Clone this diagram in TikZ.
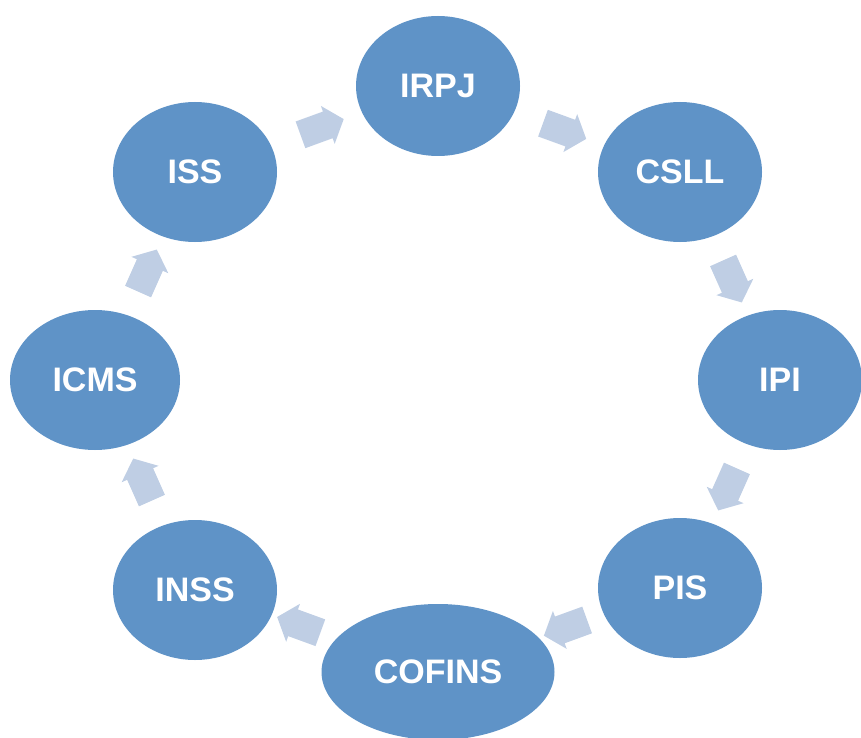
\documentclass[tikz,border=0pt]{standalone}
\usepackage{fontspec}
\setmainfont{Liberation Sans}
\usetikzlibrary{shapes.geometric,shapes.arrows,calc}
\definecolor{TaxClr}{HTML}{5F93C7}
\definecolor{FlowClr}{HTML}{BFCEE4}

\begin{document}
\begin{tikzpicture}[x=1pt,y=-1pt,
  tax/.style={ellipse,fill=TaxClr,text=white,inner sep=0pt,
    minimum width=164pt,minimum height=140pt,
    font=\fontsize{34}{34}\selectfont\bfseries},
  flow/.style={single arrow,fill=FlowClr,inner xsep=0pt,inner ysep=14pt,
    minimum height=46pt,single arrow head extend=6pt,
    single arrow tip angle=100}]
\useasboundingbox (0,0) rectangle (861,738);

\node[tax] (IRPJ) at (438,86) {IRPJ};
\node[tax] (CSLL) at (680,172) {CSLL};
\node[tax] (IPI) at (780,380) {IPI};
\node[tax] (PIS) at (680,588) {PIS};
\node[tax,minimum width=233pt,minimum height=136pt] (COFINS) at (438,672) {COFINS};
\node[tax] (INSS) at (195,590) {INSS};
\node[tax,minimum width=170pt] (ICMS) at (95,380) {ICMS};
\node[tax] (ISS) at (195,172) {ISS};

% arrows between the taxes, clockwise
\foreach \a/\b/\pos/\ang in {ISS/IRPJ/0.5/20,IRPJ/CSLL/0.5/-20,
  CSLL/IPI/0.5/-66,IPI/PIS/0.5/-114,PIS/COFINS/0.45/-160,
  COFINS/INSS/0.55/160,INSS/ICMS/0.5/114,ICMS/ISS/0.5/66}
  \node[flow,rotate=\ang] at ($(\a)!\pos!(\b)$) {};

\end{tikzpicture}
\end{document}
